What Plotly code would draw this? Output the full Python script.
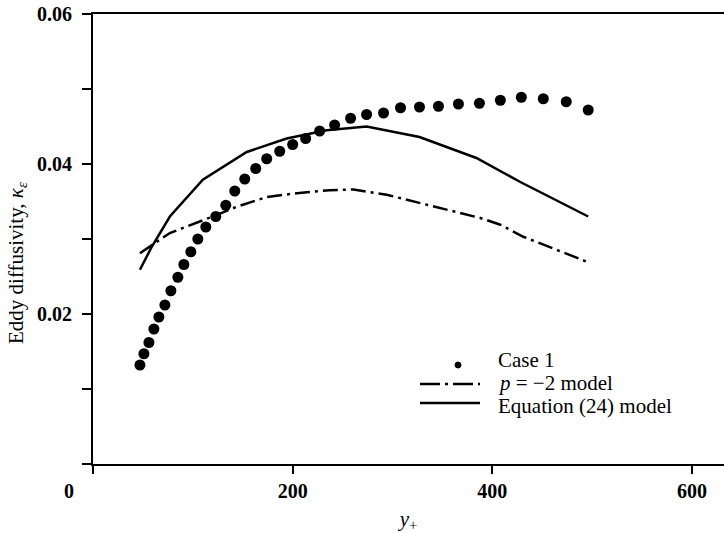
import plotly.graph_objects as go

# Case 1 measurements
case_yplus = [47, 51, 56, 61, 66, 72, 78, 85, 91, 98,
              105, 113, 123, 133, 142, 152, 163, 174, 187, 200,
              213, 227, 242, 258, 274, 291, 308, 327, 346, 366,
              387, 408, 429, 451, 474, 496]
case_kappa = [0.0132, 0.0147, 0.0162, 0.0180, 0.0196, 0.0212, 0.0231, 0.0249, 0.0266, 0.0283,
              0.0300, 0.0316, 0.0330, 0.0345, 0.0364, 0.0380, 0.0394, 0.0407, 0.0417, 0.0426,
              0.0434, 0.0444, 0.0452, 0.0461, 0.0466, 0.0468, 0.0475, 0.0476, 0.0477, 0.0480,
              0.0481, 0.0485, 0.0489, 0.0487, 0.0483, 0.0472]

# p = -2 model
p2_yplus = [47, 77, 120, 144, 174, 204, 237, 261, 294, 327, 361, 388, 408, 431, 496]
p2_kappa = [0.0281, 0.0308, 0.0330, 0.0343, 0.0356, 0.0361, 0.0365, 0.0366, 0.0359,
            0.0348, 0.0336, 0.0328, 0.0319, 0.0303, 0.0269]

# Equation (24) model
eq_yplus = [47, 59, 77, 110, 154, 194, 234, 274, 327, 354, 384, 428, 496]
eq_kappa = [0.0259, 0.0290, 0.0330, 0.0379, 0.0416, 0.0434, 0.0445, 0.0450, 0.0436,
            0.0423, 0.0408, 0.0376, 0.0330]

x_ticks = [0, 200, 400, 600]
x_ticktext = ["", "<b>200</b>", "<b>400</b>", "<b>600</b>"]
y_ticks = [0, 0.01, 0.02, 0.03, 0.04, 0.05, 0.06]
y_ticktext = ["", "", "<b>0.02</b>", "", "<b>0.04</b>", "", "<b>0.06</b>"]

legend_labels = ["Case 1", "<i>p</i> = \u22122 model", "Equation (24) model"]

FONT = "Liberation Serif"
INK = "black"

fig = go.Figure()

fig.add_trace(go.Scatter(
    x=p2_yplus, y=p2_kappa, mode="lines",
    line=dict(color=INK, width=2.5, dash="15px,5px,3px,5px"),
    hoverinfo="skip"))
fig.add_trace(go.Scatter(
    x=eq_yplus, y=eq_kappa, mode="lines",
    line=dict(color=INK, width=2.5),
    hoverinfo="skip"))
fig.add_trace(go.Scatter(
    x=case_yplus, y=case_kappa, mode="markers",
    marker=dict(color=INK, size=11, symbol="circle", line=dict(width=0)),
    hoverinfo="skip"))

# hand-drawn key in the lower right of the plot area
def px_x(p):
    return (p - 93) / 631

def px_y(p):
    return (464 - p) / 450

shapes = [
    dict(type="line", xref="paper", yref="paper",
         x0=px_x(420), x1=px_x(480), y0=px_y(384), y1=px_y(384),
         line=dict(color=INK, width=2.5, dash="20px,5px,3px,5px")),
    dict(type="line", xref="paper", yref="paper",
         x0=px_x(420), x1=px_x(480), y0=px_y(403), y1=px_y(403),
         line=dict(color=INK, width=2.5)),
    dict(type="circle", xref="paper", yref="paper",
         x0=px_x(455), x1=px_x(461), y0=px_y(368), y1=px_y(362),
         fillcolor=INK, line=dict(color=INK, width=1)),
]

annotations = []
for lab, yc in zip(legend_labels, [360, 383, 406]):
    annotations.append(dict(
        text=lab, xref="paper", yref="paper", x=px_x(496), y=px_y(yc),
        xanchor="left", yanchor="middle", showarrow=False,
        font=dict(family=FONT, size=21, color=INK)))

# shared origin label
annotations.append(dict(
    text="<b>0</b>", xref="paper", yref="paper", x=px_x(69), y=px_y(491),
    xanchor="center", yanchor="middle", showarrow=False,
    font=dict(family=FONT, size=20, color=INK)))

# y-axis title
annotations.append(dict(
    text="Eddy diffusivity, <i>\u03ba</i><sub><i>\u03b5</i></sub>",
    xref="paper", yref="paper", x=px_x(17), y=px_y(263),
    xanchor="center", yanchor="middle", textangle=-90, showarrow=False,
    font=dict(family=FONT, size=21, color=INK)))

fig.update_layout(
    width=724, height=533,
    margin=dict(l=93, r=0, t=14, b=69),
    paper_bgcolor="white", plot_bgcolor="white",
    showlegend=False,
    shapes=shapes, annotations=annotations,
    font=dict(family=FONT, size=19, color=INK),
    xaxis=dict(
        range=[0, 632], tickmode="array", tickvals=x_ticks, ticktext=x_ticktext,
        ticks="outside", ticklen=8, tickwidth=2, tickcolor=INK,
        showline=True, linewidth=2, linecolor=INK, mirror=True,
        showgrid=False, zeroline=False,
        title=dict(text="<i>y</i><sub>+</sub>", font=dict(family=FONT, size=21), standoff=10),
        tickfont=dict(family=FONT, size=20, color=INK),
    ),
    yaxis=dict(
        range=[0, 0.06], tickmode="array", tickvals=y_ticks, ticktext=y_ticktext,
        ticks="outside", ticklen=9, tickwidth=2, tickcolor=INK,
        ticklabelstandoff=6,
        showline=True, linewidth=2, linecolor=INK, mirror=False,
        showgrid=False, zeroline=False,
        tickfont=dict(family=FONT, size=20, color=INK),
    ),
)

fig.write_html("out.html")
